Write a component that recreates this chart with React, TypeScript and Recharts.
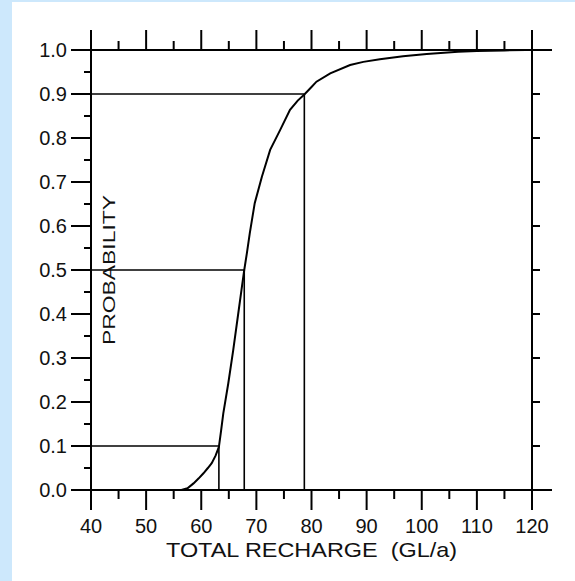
import { LineChart, Line, XAxis, YAxis, ReferenceLine } from "recharts";

const recharge = [
  56.4, 57.5, 58.6, 59.5, 60.4, 61.2, 61.9, 62.6, 63.2, 63.6, 64.0, 64.9, 65.8,
  66.7, 67.3, 67.8, 68.3, 68.8, 69.7, 71.0, 72.5, 74.3, 76.1, 77.5, 78.7, 80.0,
  80.9, 83.4, 87.0, 89.4, 92.4, 96.6, 100.9, 106.6, 110.0, 115.0, 118.9,
];
const probability = [
  0.0, 0.004, 0.015, 0.026, 0.038, 0.05, 0.061, 0.078, 0.098, 0.135, 0.174,
  0.242, 0.318, 0.4, 0.455, 0.5, 0.54, 0.583, 0.652, 0.712, 0.773, 0.818, 0.864,
  0.885, 0.899, 0.916, 0.928, 0.947, 0.966, 0.973, 0.979, 0.986, 0.991, 0.996,
  0.998, 0.999, 1.0,
];

// 10%, 50%, 90% levels and their recharge values
const quantileProb = [0.1, 0.5, 0.9];
const quantileValue = [63.2, 67.8, 78.7];

const xTicks = [40, 45, 50, 55, 60, 65, 70, 75, 80, 85, 90, 95, 100, 105, 110, 115, 120];
const yTicks = [
  0, 0.05, 0.1, 0.15, 0.2, 0.25, 0.3, 0.35, 0.4, 0.45, 0.5, 0.55, 0.6, 0.65,
  0.7, 0.75, 0.8, 0.85, 0.9, 0.95, 1.0,
];
const rightTicks = [0, 0.1, 0.2, 0.3, 0.4, 0.5, 0.6, 0.7, 0.8, 0.9, 1.0];

const data = recharge.map((x, i) => ({ x, p: probability[i] }));

const FONT = "'Liberation Sans', Arial, sans-serif";
const INK = "#111";

const isMajorX = (v: number) => v % 10 === 0;
const isMajorY = (v: number) => Math.round(v * 100) % 10 === 0;

function BottomTick({ x, y, payload }: any) {
  const v = payload.value;
  const major = isMajorX(v);
  return (
    <g>
      <line x1={x} y1={y} x2={x} y2={y + (major ? 20 : 9)} stroke="#000" strokeWidth={2} />
      {major && (
        <text x={x} y={y + 43} textAnchor="middle" fontSize={20} fontFamily={FONT} fill={INK}>
          {v}
        </text>
      )}
    </g>
  );
}

function TopTick({ x, y, payload }: any) {
  const major = isMajorX(payload.value);
  return <line x1={x} y1={y} x2={x} y2={y - (major ? 20 : 9)} stroke="#000" strokeWidth={2} />;
}

function LeftTick({ x, y, payload }: any) {
  const v = payload.value;
  const major = isMajorY(v);
  return (
    <g>
      <line x1={x} y1={y} x2={x - (major ? 20 : 7)} y2={y} stroke="#000" strokeWidth={2} />
      {major && (
        <text x={x - 24} y={y + 7} textAnchor="end" fontSize={20} fontFamily={FONT} fill={INK}>
          {v.toFixed(1)}
        </text>
      )}
    </g>
  );
}

function RightTick({ x, y, payload }: any) {
  const v = payload.value;
  const len = v === 0 || v === 1 ? 20 : 8;
  return <line x1={x} y1={y} x2={x + len} y2={y} stroke="#000" strokeWidth={2} />;
}

function XTitle({ viewBox }: any) {
  return (
    <text
      x={viewBox.x + viewBox.width / 2}
      y={viewBox.y + 67}
      textAnchor="middle"
      fontSize={21}
      fontFamily={FONT}
      fill={INK}
      textLength={291}
      lengthAdjust="spacingAndGlyphs"
      style={{ whiteSpace: "pre" }}
    >
      TOTAL RECHARGE {"\u00a0"}(GL/a)
    </text>
  );
}

function YTitle({ viewBox }: any) {
  const x = viewBox.x + viewBox.width + 24;
  const y = viewBox.y + viewBox.height / 2;
  return (
    <text
      x={x}
      y={y}
      transform={`rotate(-90 ${x} ${y})`}
      textAnchor="middle"
      fontSize={16.5}
      fontFamily={FONT}
      fill={INK}
      textLength={150}
      lengthAdjust="spacingAndGlyphs"
    >
      PROBABILITY
    </text>
  );
}

export default function App() {
  return (
    <div style={{ position: "absolute", left: 0, top: 0, width: 575, height: 581, background: "#cde8fc" }}>
      <div style={{ position: "absolute", left: 12, top: 2, right: 0, bottom: 0, background: "#fff" }} />
      <div style={{ position: "absolute", left: 0, top: 0 }}>
        <LineChart width={575} height={581} data={data} margin={{ top: 0, right: 0, bottom: 0, left: 0 }}>
          <XAxis
            xAxisId="bottom"
            dataKey="x"
            type="number"
            domain={[40, 120]}
            allowDataOverflow
            ticks={xTicks}
            interval={0}
            height={91}
            tickSize={0}
            tickMargin={0}
            tickLine={false}
            axisLine={{ stroke: "#000", strokeWidth: 2 }}
            tick={<BottomTick />}
            label={<XTitle />}
          />
          <XAxis
            xAxisId="top"
            orientation="top"
            dataKey="x"
            type="number"
            domain={[40, 120]}
            allowDataOverflow
            ticks={xTicks}
            interval={0}
            height={50}
            tickSize={0}
            tickMargin={0}
            tickLine={false}
            axisLine={{ stroke: "#000", strokeWidth: 2 }}
            tick={<TopTick />}
          />
          <YAxis
            yAxisId="left"
            type="number"
            domain={[0, 1]}
            allowDataOverflow
            ticks={yTicks}
            interval={0}
            width={91}
            tickSize={0}
            tickMargin={0}
            tickLine={false}
            axisLine={{ stroke: "#000", strokeWidth: 2 }}
            tick={<LeftTick />}
            label={<YTitle />}
          />
          <YAxis
            yAxisId="right"
            orientation="right"
            type="number"
            domain={[0, 1]}
            allowDataOverflow
            ticks={rightTicks}
            interval={0}
            width={43}
            tickSize={0}
            tickMargin={0}
            tickLine={false}
            axisLine={{ stroke: "#000", strokeWidth: 2 }}
            tick={<RightTick />}
          />
          {quantileProb.map((p, i) => (
            <ReferenceLine
              key={`h${i}`}
              xAxisId="bottom"
              yAxisId="left"
              segment={[
                { x: 40, y: p },
                { x: quantileValue[i], y: p },
              ]}
              stroke="#000"
              strokeWidth={1.6}
            />
          ))}
          {quantileProb.map((p, i) => (
            <ReferenceLine
              key={`v${i}`}
              xAxisId="bottom"
              yAxisId="left"
              segment={[
                { x: quantileValue[i], y: 0 },
                { x: quantileValue[i], y: p },
              ]}
              stroke="#000"
              strokeWidth={1.6}
            />
          ))}
          <Line
            xAxisId="bottom"
            yAxisId="left"
            dataKey="p"
            type="linear"
            stroke="#000"
            strokeWidth={2}
            dot={false}
            isAnimationActive={false}
          />
          {/* invisible twin so the top/right frame axes get a scale */}
          <Line
            xAxisId="top"
            yAxisId="right"
            dataKey="p"
            stroke="none"
            dot={false}
            activeDot={false}
            legendType="none"
            isAnimationActive={false}
          />
        </LineChart>
      </div>
    </div>
  );
}
